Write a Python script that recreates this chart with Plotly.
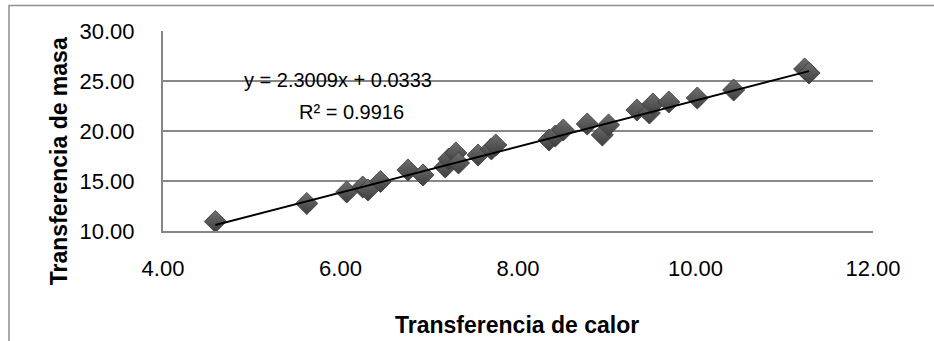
import plotly.graph_objects as go

# Heat transfer vs. mass transfer measurements
calor = [4.59, 5.62, 6.07, 6.25, 6.31, 6.45, 6.76, 6.93, 7.18, 7.22,
         7.30, 7.33, 7.55, 7.70, 7.75, 8.35, 8.42, 8.51, 8.78, 8.95,
         9.02, 9.34, 9.48, 9.52, 9.70, 10.02, 10.43, 11.23, 11.28]
masa = [10.95, 12.75, 13.90, 14.40, 14.10, 14.95, 16.10, 15.60, 16.40, 17.20,
        17.80, 16.80, 17.60, 18.20, 18.60, 19.10, 19.50, 20.10, 20.70, 19.60,
        20.60, 22.10, 21.80, 22.70, 22.90, 23.30, 24.10, 26.20, 25.80]

# Linear trend line coefficients
pendiente = 2.3009
intercepto = 0.0333
r2 = 0.9916

x_ticks = [4, 6, 8, 10, 12]
y_ticks = [10, 15, 20, 25, 30]

x_lo, x_hi = min(calor), max(calor)
trend_x = [x_lo, x_hi]
trend_y = [pendiente * v + intercepto for v in trend_x]

GRID = "#878787"
FONT = "Liberation Sans, Arial, sans-serif"

fig = go.Figure()

fig.add_trace(go.Scatter(
    x=calor, y=masa, mode="markers",
    marker=dict(symbol="diamond", size=17, color="#6e6e6e",
                gradient=dict(type="vertical", color="#3e3e3e"),
                line=dict(color="#3a3a3a", width=0.8)),
    showlegend=False, hoverinfo="x+y",
))

fig.add_trace(go.Scatter(
    x=trend_x, y=trend_y, mode="lines",
    line=dict(color="#000000", width=2),
    showlegend=False, hoverinfo="skip",
))

fig.update_xaxes(
    range=[4, 12], tickvals=x_ticks,
    ticktext=[f"{v:.2f}" for v in x_ticks],
    showgrid=False, zeroline=False,
    showline=True, linecolor=GRID, linewidth=2,
    ticks="", ticklabelstandoff=17,
    tickfont=dict(family=FONT, size=22, color="#000000"),
)
fig.update_yaxes(
    range=[10, 30], tickvals=y_ticks,
    ticktext=[f"{v:.2f}" for v in y_ticks],
    showgrid=True, gridcolor=GRID, gridwidth=2, zeroline=False,
    showline=True, linecolor=GRID, linewidth=2,
    ticks="", ticklabelstandoff=22,
    tickfont=dict(family=FONT, size=22, color="#000000"),
)

# Chart-area border (extends past the right and bottom edges)
fig.add_shape(type="rect", xref="paper", yref="paper",
              x0=-0.2169, y0=-0.60, x1=1.10, y1=1.128,
              line=dict(color="#8f8f8f", width=1.5), layer="below")

fig.add_annotation(
    xref="paper", yref="paper", x=0.247, y=0.755,
    xanchor="center", yanchor="middle",
    text=f"y = {pendiente}x + {intercepto}", showarrow=False,
    font=dict(family=FONT, size=20, color="#000000"),
)
fig.add_annotation(
    xref="paper", yref="paper", x=0.265, y=0.595,
    xanchor="center", yanchor="middle",
    text=f"R² = {r2}", showarrow=False,
    font=dict(family=FONT, size=20, color="#000000"),
)

# Axis titles
fig.add_annotation(
    xref="paper", yref="paper", x=0.499, y=-0.47,
    xanchor="center", yanchor="middle",
    text="<b>Transferencia de calor</b>", showarrow=False,
    font=dict(family=FONT, size=23, color="#000000"),
)
fig.add_annotation(
    xref="paper", yref="paper", x=-0.146, y=0.35,
    xanchor="center", yanchor="middle",
    text="<b>Transferencia de masa</b>", showarrow=False, textangle=-90,
    font=dict(family=FONT, size=23, color="#000000"),
)

fig.update_layout(
    width=934, height=341,
    margin=dict(l=163, r=61, t=31, b=110),
    paper_bgcolor="#ffffff", plot_bgcolor="#ffffff",
)

fig.write_html("out.html")
